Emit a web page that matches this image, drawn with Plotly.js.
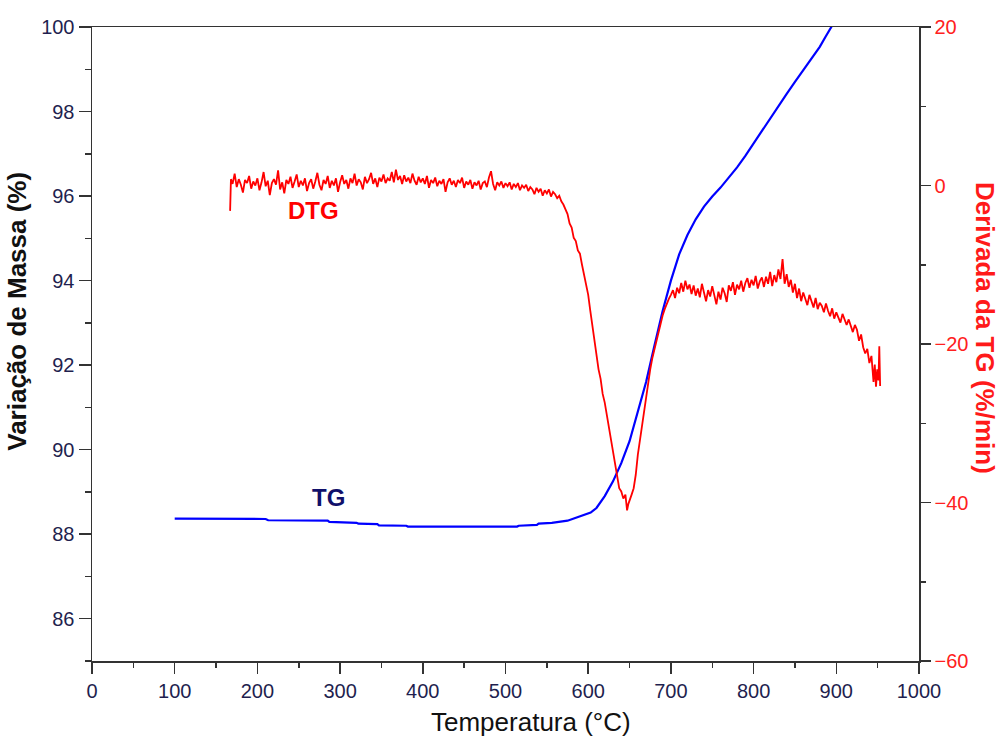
<!DOCTYPE html>
<html>
<head>
<meta charset="utf-8">
<script src="https://cdn.plot.ly/plotly-3.0.1.min.js"></script>
<style>html,body{margin:0;padding:0;background:#fff;}#chart{width:1003px;height:740px;}</style>
</head>
<body>
<div id="chart"></div>
<script>
// TG curve (mass %, left axis)
const tgTemp = [100, 210, 213, 285, 287, 320, 322, 345, 347, 380, 382, 514, 516, 538, 540, 556, 575, 591, 603, 610, 620, 630, 640, 650, 660, 670, 680, 690, 700, 710, 720, 730, 740, 750, 760, 770, 780, 790, 800, 810, 820, 830, 840, 850, 860, 870, 880, 887, 893, 897];
const tgMass = [88.37, 88.36, 88.33, 88.32, 88.29, 88.27, 88.25, 88.24, 88.21, 88.20, 88.18, 88.18, 88.20, 88.22, 88.25, 88.27, 88.32, 88.42, 88.51, 88.62, 88.90, 89.25, 89.68, 90.20, 90.88, 91.60, 92.45, 93.28, 94.00, 94.62, 95.08, 95.45, 95.75, 95.99, 96.20, 96.43, 96.68, 96.95, 97.25, 97.55, 97.85, 98.14, 98.42, 98.70, 98.97, 99.25, 99.53, 99.77, 99.97, 100.10];

// DTG curve (%/min, right axis)
const dtgTemp = [
  167, 168,
  170, 172.5, 175, 177.5, 180, 182.5, 185, 187.5, 190, 192.5,
  195, 197.5, 200, 202.5, 205, 207.5, 210, 212.5, 215, 217.5,
  220, 222.5, 225, 227.5, 230, 232.5, 235, 237.5, 240, 242.5,
  245, 247.5, 250, 252.5, 255, 257.5, 260, 262.5, 265, 267.5,
  270, 272.5, 275, 277.5, 280, 282.5, 285, 287.5, 290, 292.5,
  295, 297.5, 300, 302.5, 305, 307.5, 310, 312.5, 315, 317.5,
  320, 322.5, 325, 327.5, 330, 332.5, 335, 337.5, 340, 342.5,
  345, 347.5, 350, 352.5, 355, 357.5, 360, 362.5, 365, 367.5,
  370, 372.5, 375, 377.5, 380, 382.5, 385, 387.5, 390, 392.5,
  395, 397.5, 400, 402.5, 405, 407.5, 410, 412.5, 415, 417.5,
  420, 422.5, 425, 427.5, 430, 432.5, 435, 437.5, 440, 442.5,
  445, 447.5, 450, 452.5, 455, 457.5, 460, 462.5, 465, 467.5,
  470, 472.5, 475, 477.5, 480, 482.5, 485, 487.5, 490, 492.5,
  495, 497.5, 500, 502.5, 505, 507.5, 510, 512.5, 515, 517.5,
  520, 522.5, 525, 527.5, 530, 532.5, 535, 537.5, 540, 542.5,
  545, 547.5, 550, 552.5, 555, 557.5, 560, 562.5, 565, 567.5,
  570, 572.5, 575, 577.5, 580, 582.5, 585, 587.5, 590, 592.5,
  595, 597.5, 600, 602.5, 605, 607.5, 610, 612.5, 615, 617.5,
  620, 622.5, 625, 627.5, 630, 632.5, 635, 637.5, 640, 642.5,
  645, 647, 648.5, 650, 652.5, 655, 657.5, 660, 662.5, 665,
  667.5, 670, 672.5, 675, 677.5, 680, 682.5, 685, 687.5, 690,
  692.5, 695, 697.5,
  700, 702.5, 705, 707.5, 710, 712.5, 715, 717.5, 720, 722.5,
  725, 727.5, 730, 732.5, 735, 737.5, 740, 742.5, 745, 747.5,
  750, 752.5, 755, 757.5, 760, 762.5, 765, 767.5, 770, 772.5,
  775, 777.5, 780, 782.5, 785, 787.5, 790, 792.5, 795, 797.5,
  800, 802.5, 805, 807.5, 810, 812.5, 815, 817.5, 820, 822.5,
  825, 827.5, 830, 832.5, 835, 837.5, 840, 842.5, 845, 847.5,
  850, 852.5, 855, 857.5, 860, 862.5, 865, 867.5, 870, 872.5,
  875, 877.5, 880, 882.5, 885, 887.5, 890, 892.5, 895, 897.5,
  900, 902.5, 905, 907.5, 910, 912.5, 915, 917.5, 920, 922.5,
  925, 927.5, 930, 932.5, 935, 937.5, 940, 942.5, 945, 946.5,
  948, 949.5, 951, 952, 953
];
const dtgRate = [
  -3.2, 0.8,
  0.2, 1.5, -0.2, 0.8, 0.1, -0.9, 0.7, 0.3, 1.2, -0.4,
  0.5, 0.0, 0.9, -0.6, 0.4, 1.7, -0.1, 0.6, -1.2, 0.3,
  0.8, 0.1, 1.9, -0.5, 0.4, -1.0, 0.7, 0.2, 1.1, -0.3,
  0.5, 1.4, -0.2, 0.6, 0.0, 0.9, -0.7, 0.3, 0.8, -0.4,
  0.5, 1.6, 0.1, -0.6, 0.7, 0.2, 1.2, -0.3, 0.6, 0.0,
  0.9, -0.8, 0.4, 1.3, 0.2, 0.7, -0.4, 0.9, 0.3, 1.5,
  0.0, 0.8, 0.4, -0.5, 1.1, 0.3, 0.8, 1.6, 0.2, 0.9,
  -0.2, 1.0, 0.5, 1.4, 0.3, 0.9, 0.6, 1.7, 0.4, 2.0,
  0.7, 1.2, 0.2, 1.3, 0.5, 1.0, 0.3, 1.5, 0.6, 0.1,
  1.1, 0.4, 0.9, 0.2, 1.2, -0.3, 0.7, 0.3, 1.0, -0.1,
  0.6, 0.2, 0.8, -0.8, 0.4, 0.9, 0.1, 0.6, -0.2, 0.7,
  0.3, 1.0, -0.3, 0.5, 0.1, 0.7, -0.4, 0.4, 0.0, 0.6,
  -0.5, 0.3, 0.5, -0.2, 1.0, 1.8, 0.2, -0.6, 0.4, 0.0,
  0.5, -0.3, 0.3, -0.1, 0.4, -0.5, 0.2, -0.2, 0.3, -0.6,
  0.0, -0.3, 0.1, -0.7, -0.2, -0.5, -1.1, -0.3, -0.8, -0.4,
  -1.3, -0.6, -1.0, -0.5, -1.4, -0.8, -1.1, -1.6, -1.3, -2.0,
  -2.4, -3.0, -3.6, -4.8, -5.3, -6.6, -7.0, -8.2, -8.6, -10.0,
  -11.2, -12.6, -13.8, -15.8, -17.6, -19.8, -21.3, -23.2, -24.4, -26.3,
  -27.4, -29.0, -30.4, -32.3, -33.6, -35.3, -36.7, -38.2, -38.6, -39.5,
  -39.0, -41.0, -40.2, -39.8, -39.0, -38.2, -36.5, -34.0, -32.2, -30.2,
  -28.5, -26.5, -24.6, -23.2, -21.8, -20.7, -19.5, -18.3, -17.3, -16.4,
  -15.6, -14.8, -14.3,
  -13.8, -13.2, -14.2, -12.9, -13.6, -12.3, -13.4, -12.0, -13.1, -12.5,
  -13.7, -12.6, -13.9, -13.0, -14.1, -12.4, -13.5, -14.6, -13.2, -14.0,
  -12.7, -13.8, -15.0, -13.4, -14.4, -12.9, -13.6, -14.7, -12.6, -13.3,
  -12.2, -13.8, -12.5, -13.1, -12.0, -13.4, -12.3, -11.7, -12.9, -11.9,
  -12.6, -11.4, -13.0, -12.1, -11.6, -12.8, -11.5, -12.4, -10.9, -12.7,
  -11.3, -12.2, -10.6, -11.8, -9.3, -12.4, -11.2, -12.8, -11.9, -13.5,
  -12.4, -14.2, -13.0, -14.6, -13.5, -14.3, -15.1, -13.8, -14.5, -15.4,
  -14.2, -15.6, -14.8, -15.2, -16.0, -14.9, -15.8, -16.5, -15.5, -16.8,
  -16.0, -16.6, -17.3, -16.2, -17.0, -17.6, -16.9, -17.8, -18.5, -17.6,
  -18.2, -19.6, -18.8, -20.4, -21.2, -20.6, -22.4, -21.5, -24.8, -22.6,
  -25.4, -23.2, -24.6, -20.3, -25.3
];

const xTickVals = [0, 100, 200, 300, 400, 500, 600, 700, 800, 900, 1000];
const leftTickVals = [86, 88, 90, 92, 94, 96, 98, 100];
const rightTickVals = [-60, -40, -20, 0, 20];

const tickFont = {family: 'Liberation Sans, Arial, sans-serif', size: 20, color: '#1f1f4f'};
const axisColor = '#333333';

const traces = [
  {x: tgTemp, y: tgMass, type: 'scatter', mode: 'lines', line: {color: '#0000ff', width: 2.2}, xaxis: 'x', yaxis: 'y', hoverinfo: 'skip'},
  {x: dtgTemp, y: dtgRate, type: 'scatter', mode: 'lines', line: {color: '#ff0000', width: 1.8}, xaxis: 'x', yaxis: 'y2', hoverinfo: 'skip'}
];

const layout = {
  width: 1003, height: 740,
  margin: {l: 92, r: 84, t: 27, b: 79},
  paper_bgcolor: '#ffffff', plot_bgcolor: '#ffffff',
  showlegend: false,
  xaxis: {
    range: [0, 1000], tickvals: xTickVals, ticks: 'outside', ticklen: 11, tickwidth: 1.5, tickcolor: axisColor,
    minor: {dtick: 50, ticks: 'outside', ticklen: 5, tickwidth: 1.5, tickcolor: axisColor},
    showline: true, linecolor: axisColor, linewidth: 1.5, mirror: true,
    showgrid: false, zeroline: false, tickfont: tickFont
  },
  yaxis: {
    range: [85, 100], tickvals: leftTickVals, ticks: 'outside', ticklen: 12, tickwidth: 1.5, tickcolor: axisColor,
    minor: {dtick: 1, tick0: 85, ticks: 'outside', ticklen: 6, tickwidth: 1.5, tickcolor: axisColor},
    showline: true, linecolor: axisColor, linewidth: 1.5,
    showgrid: false, zeroline: false, tickfont: tickFont
  },
  yaxis2: {
    range: [-60, 20], tickvals: rightTickVals, overlaying: 'y', side: 'right',
    ticks: 'outside', ticklen: 10, tickwidth: 1.5, tickcolor: axisColor,
    minor: {dtick: 10, ticks: 'outside', ticklen: 5, tickwidth: 1.5, tickcolor: axisColor},
    showline: true, linecolor: axisColor, linewidth: 1.5,
    showgrid: false, zeroline: false,
    tickfont: {family: 'Liberation Sans, Arial, sans-serif', size: 20, color: '#ff2020'}
  },
  annotations: [
    {text: '<b>Variação de Massa (%)</b>', xref: 'paper', yref: 'paper', x: -0.091, y: 0.552, textangle: -90, showarrow: false, xanchor: 'center', yanchor: 'middle', font: {family: 'Liberation Sans, Arial, sans-serif', size: 26, color: '#111111'}},
    {text: '<b>Derivada da TG (%/min)</b>', xref: 'paper', yref: 'paper', x: 1.08, y: 0.525, textangle: 90, showarrow: false, xanchor: 'center', yanchor: 'middle', font: {family: 'Liberation Sans, Arial, sans-serif', size: 26, color: '#ff1a1a'}},
    {text: 'Temperatura (°C)', xref: 'paper', yref: 'paper', x: 0.531, y: -0.097, showarrow: false, xanchor: 'center', yanchor: 'middle', font: {family: 'Liberation Sans, Arial, sans-serif', size: 26, color: '#111111'}},
    {text: '<b>DTG</b>', xref: 'x', yref: 'y2', x: 268, y: -3.1, showarrow: false, xanchor: 'center', yanchor: 'middle', font: {family: 'Liberation Sans, Arial, sans-serif', size: 24, color: '#ff0000'}},
    {text: '<b>TG</b>', xref: 'x', yref: 'y', x: 286, y: 88.86, showarrow: false, xanchor: 'center', yanchor: 'middle', font: {family: 'Liberation Sans, Arial, sans-serif', size: 24, color: '#10106a'}}
  ]
};

Plotly.newPlot('chart', traces, layout, {displayModeBar: false, staticPlot: true});
</script>
</body>
</html>
